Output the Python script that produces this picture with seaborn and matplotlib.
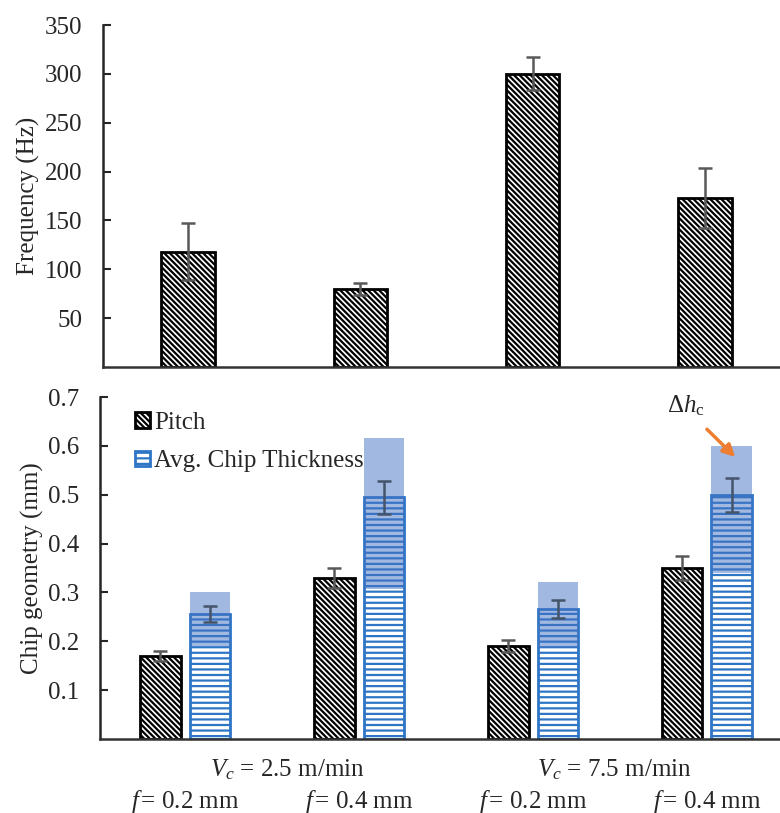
import numpy as np
import pandas as pd
import matplotlib
matplotlib.use("Agg")
import matplotlib.pyplot as plt
from matplotlib.patches import Patch
from matplotlib.transforms import blended_transform_factory
import seaborn as sns

# ---------------- data ----------------
conditions = ["Vc2.5_f0.2", "Vc2.5_f0.4", "Vc7.5_f0.2", "Vc7.5_f0.4"]
feed_labels = [r"$f\,$= 0.2 mm", r"$f\,$= 0.4 mm", r"$f\,$= 0.2 mm", r"$f\,$= 0.4 mm"]
speed_labels = [r"$V_c$ = 2.5 m/min", r"$V_c$ = 7.5 m/min"]

frequency = [118, 80, 300, 173]
frequency_err = [29, 6, 17, 31]

pitch = [0.17, 0.33, 0.19, 0.35]
pitch_err = [0.010, 0.020, 0.012, 0.024]
thickness = [0.256, 0.495, 0.266, 0.499]
thickness_err = [0.017, 0.034, 0.018, 0.035]
dh_low = [0.19, 0.307, 0.186, 0.34]
dh_high = [0.30, 0.616, 0.321, 0.599]

series_names = ["Pitch", "Avg. Chip Thickness"]

# ---------------- style ----------------
sns.set_style("ticks")
plt.rcParams["font.family"] = ["Liberation Serif", "DejaVu Serif"]
plt.rcParams["mathtext.fontset"] = "custom"
plt.rcParams["mathtext.rm"] = "Liberation Serif"
plt.rcParams["mathtext.it"] = "Liberation Serif:italic"
plt.rcParams["mathtext.bf"] = "Liberation Serif:bold"
plt.rcParams["hatch.linewidth"] = 1.6

FS = 18
DIAG = "\\\\\\\\\\\\"
HORZ = "---"
BLUE = "#2E75C6"
SHADE = "#4472C4"
ERR = "#595959"
ORANGE = "#ED7D31"

fig = plt.figure(figsize=(7.8, 8.13), dpi=100)
W, H = 780, 813
ax1 = fig.add_axes([103 / W, 1 - 367 / H, (780 - 103) / W, (367 - 25) / H])
ax2 = fig.add_axes([100 / W, 1 - 739 / H, (780 - 100) / W, (739 - 397) / H])

# ---------------- top: frequency ----------------
df_top = pd.DataFrame({"cond": conditions, "freq": frequency})
sns.barplot(data=df_top, x="cond", y="freq", ax=ax1, color="white",
            edgecolor="black", linewidth=2.0, width=0.31, errorbar=None,
            hatch=DIAG)
for p in ax1.patches:
    p.set_facecolor("white")
    p.set_edgecolor("black")
xs_top = [p.get_x() + p.get_width() / 2 for p in ax1.patches]
ax1.errorbar(xs_top, frequency, yerr=frequency_err, fmt="none", ecolor=ERR,
             elinewidth=1.8, capsize=5, capthick=1.8, zorder=4)
ax1.set_xlim(-0.494, 3.436)
ax1.set_ylim(0, 350)
ax1.set_yticks([50, 100, 150, 200, 250, 300, 350])
ax1.set_xticks([])
ax1.set_xlabel("")
ax1.set_ylabel("Frequency (Hz)", fontsize=FS, labelpad=3)
ax1.tick_params(axis="y", direction="in", length=6, width=1.5, labelsize=FS, pad=15)
for s in ["top", "right"]:
    ax1.spines[s].set_visible(False)
ax1.spines["left"].set_linewidth(1.8)
ax1.spines["bottom"].set_linewidth(1.8)
ax1.spines["bottom"].set_color("#333333")

# ---------------- bottom: chip geometry ----------------
df_bot = pd.DataFrame({
    "cond": conditions * 2,
    "series": [series_names[0]] * 4 + [series_names[1]] * 4,
    "value": pitch + thickness,
})
sns.barplot(data=df_bot, x="cond", y="value", hue="series", ax=ax2,
            palette={series_names[0]: "white", series_names[1]: "white"},
            width=0.57, gap=0.18, errorbar=None, linewidth=2.0, legend=False)
c_pitch, c_thick = ax2.containers[0], ax2.containers[1]
for p in c_pitch:
    p.set_facecolor("white")
    p.set_edgecolor("black")
    p.set_hatch(DIAG)
    p.set_linewidth(2.0)
for p in c_thick:
    p.set_facecolor("white")
    p.set_edgecolor(BLUE)
    p.set_hatch(HORZ)
    p.set_linewidth(2.0)

xs_pitch = [p.get_x() + p.get_width() / 2 for p in c_pitch]
xs_thick = [p.get_x() + p.get_width() / 2 for p in c_thick]
w_thick = c_thick[0].get_width()

# delta h_c range shading
ax2.bar(xs_thick, np.array(dh_high) - np.array(dh_low), bottom=dh_low,
        width=w_thick, color=SHADE, alpha=0.5, linewidth=0, zorder=3)

ax2.errorbar(xs_pitch, pitch, yerr=pitch_err, fmt="none", ecolor=ERR,
             elinewidth=1.8, capsize=5, capthick=1.8, zorder=4)
ax2.errorbar(xs_thick, thickness, yerr=thickness_err, fmt="none", ecolor="#44546A",
             elinewidth=1.8, capsize=5, capthick=1.8, zorder=4)

ax2.set_xlim(-0.49, 3.42)
ax2.set_ylim(0, 0.7)
ax2.set_yticks([0.1, 0.2, 0.3, 0.4, 0.5, 0.6, 0.7])
ax2.set_yticklabels([f"{v:.1f}" for v in [0.1, 0.2, 0.3, 0.4, 0.5, 0.6, 0.7]])
ax2.set_xticks(range(4))
ax2.set_xticklabels(feed_labels, fontsize=FS)
ax2.tick_params(axis="x", length=0, pad=35)
ax2.set_xlabel("")
ax2.set_ylabel("Chip geometry (mm)", fontsize=FS, labelpad=3)
ax2.tick_params(axis="y", direction="in", length=6, width=1.5, labelsize=FS, pad=15)
for s in ["top", "right"]:
    ax2.spines[s].set_visible(False)
ax2.spines["left"].set_linewidth(1.8)
ax2.spines["bottom"].set_linewidth(1.8)
ax2.spines["bottom"].set_color("#333333")

trans = blended_transform_factory(ax2.transData, ax2.transAxes)
ax2.text(0.59, -0.09, speed_labels[0], transform=trans, ha="center", va="center", fontsize=FS)
ax2.text(2.47, -0.09, speed_labels[1], transform=trans, ha="center", va="center", fontsize=FS)

# legend
handles = [
    Patch(facecolor="white", edgecolor="black", hatch=DIAG, linewidth=2.0, label=series_names[0]),
    Patch(facecolor="white", edgecolor=BLUE, hatch=HORZ, linewidth=2.0, label=series_names[1]),
]
ax2.legend(handles=handles, loc="upper left", bbox_to_anchor=(0.03, 1.0), frameon=False,
           fontsize=FS, handlelength=0.6, handleheight=0.6, handletextpad=0.15,
           labelspacing=0.65, borderaxespad=0.2)

# delta h_c annotation
ax2.annotate("", xy=(3.163, 0.577), xytext=(3.0, 0.634),
             arrowprops=dict(arrowstyle="-|>", color=ORANGE, lw=2.5, mutation_scale=18,
                             shrinkA=0, shrinkB=0), zorder=5)
ax2.text(2.88, 0.683, r"$\Delta h_{\mathrm{c}}$", ha="center", va="center", fontsize=18)

fig.savefig("out.png", dpi=100)
